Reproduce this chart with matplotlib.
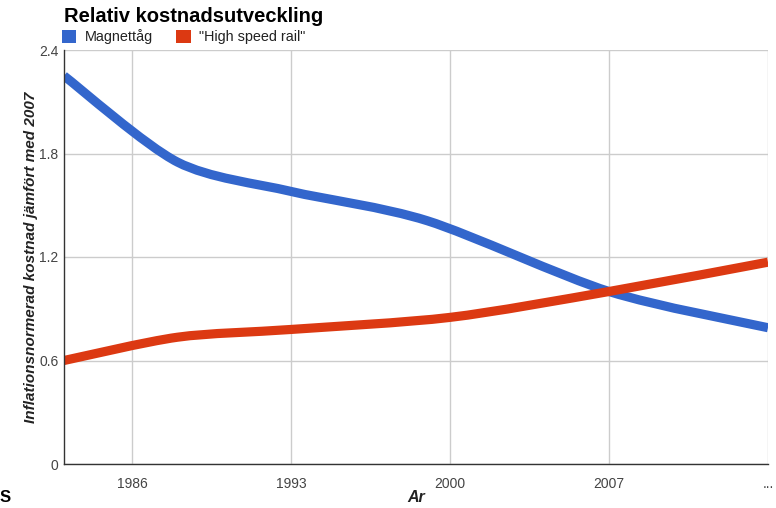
import matplotlib
matplotlib.use("Agg")
import matplotlib.pyplot as plt
from matplotlib.path import Path
from matplotlib.patches import PathPatch, Patch

plt.rcParams["font.family"] = ["Liberation Sans", "DejaVu Sans"]

# Relative, inflation-normalised cost (2007 = 1.0)
maglev_years = [1983, 1988, 1993, 1999, 2007, 2014]
maglev_cost = [2.25, 1.75, 1.58, 1.41, 1.00, 0.79]

hsr_years = [1983, 1988, 1993, 2000, 2007, 2014]
hsr_cost = [0.60, 0.735, 0.78, 0.85, 1.00, 1.17]

x_ticks = [1986, 1993, 2000, 2007, 2014]
x_tick_labels = ["1986", "1993", "2000", "2007", "..."]
y_ticks = [0, 0.6, 1.2, 1.8, 2.4]
y_tick_labels = ["0", "0.6", "1.2", "1.8", "2.4"]

series_names = ["Magnettåg", "\"High speed rail\""]
BLUE = "#3366cc"
RED = "#dc3912"


def smooth_path(xs, ys, k=0.14):
    """Cubic Bezier path through the points (Catmull-Rom style tangents)."""
    pts = list(zip(xs, ys))
    n = len(pts)
    verts = [pts[0]]
    codes = [Path.MOVETO]
    for i in range(n - 1):
        p0 = pts[i - 1] if i > 0 else pts[i]
        p1 = pts[i]
        p2 = pts[i + 1]
        p3 = pts[i + 2] if i + 2 < n else pts[i + 1]
        c1 = (p1[0] + (p2[0] - p0[0]) * k, p1[1] + (p2[1] - p0[1]) * k)
        c2 = (p2[0] - (p3[0] - p1[0]) * k, p2[1] - (p3[1] - p1[1]) * k)
        verts += [c1, c2, p2]
        codes += [Path.CURVE4] * 3
    return Path(verts, codes)


fig = plt.figure(figsize=(7.76, 5.08), dpi=100)
ax = fig.add_axes([64 / 776, 1 - 464 / 508, (768 - 64) / 776, (464 - 50) / 508])

for xs, ys, color, z in [(maglev_years, maglev_cost, BLUE, 3),
                         (hsr_years, hsr_cost, RED, 4)]:
    patch = PathPatch(smooth_path(xs, ys), facecolor="none", edgecolor=color,
                      linewidth=6.6, capstyle="butt", joinstyle="round",
                      zorder=z, transform=ax.transData)
    ax.add_patch(patch)

ax.set_xlim(1983, 2014)
ax.set_ylim(0, 2.4)
ax.set_xticks(x_ticks)
ax.set_xticklabels(x_tick_labels)
ax.set_yticks(y_ticks)
ax.set_yticklabels(y_tick_labels)
ax.tick_params(length=0, labelsize=10, colors="#444444")
ax.tick_params(axis="x", pad=9)
ax.tick_params(axis="y", pad=4)

ax.grid(True, color="#cccccc", linewidth=1.0)
ax.set_axisbelow(True)
for side in ["top", "right"]:
    ax.spines[side].set_visible(False)
for side in ["left", "bottom"]:
    ax.spines[side].set_color("#333333")
    ax.spines[side].set_linewidth(1.0)
    ax.spines[side].set_zorder(5)

ax.set_ylabel("Inflationsnormerad kostnad jämfört med 2007", fontsize=11,
              fontweight="bold", fontstyle="italic", color="#222222", labelpad=1)
ax.set_xlabel("Ar", fontsize=11.5, fontweight="bold", fontstyle="italic",
              color="#222222", labelpad=0)

fig.text(64 / 776, 1 - 17 / 508, "Relativ kostnadsutveckling", fontsize=14.5,
         fontweight="bold", color="black", va="center", ha="left")

handles = [Patch(facecolor=BLUE, edgecolor="none"),
           Patch(facecolor=RED, edgecolor="none")]
fig.legend(handles, series_names, loc="upper left",
           bbox_to_anchor=(62 / 776, 1 - 29 / 508), ncol=2, frameon=False,
           fontsize=10.4, handlelength=1.0, handleheight=1.0,
           handletextpad=0.6, columnspacing=1.6, borderaxespad=0,
           borderpad=0, labelcolor="#222222")

fig.text(0, 1 - 497 / 508, "S", fontsize=12, fontweight="bold",
         color="black", va="center", ha="left")

fig.savefig("out.png", dpi=100)
